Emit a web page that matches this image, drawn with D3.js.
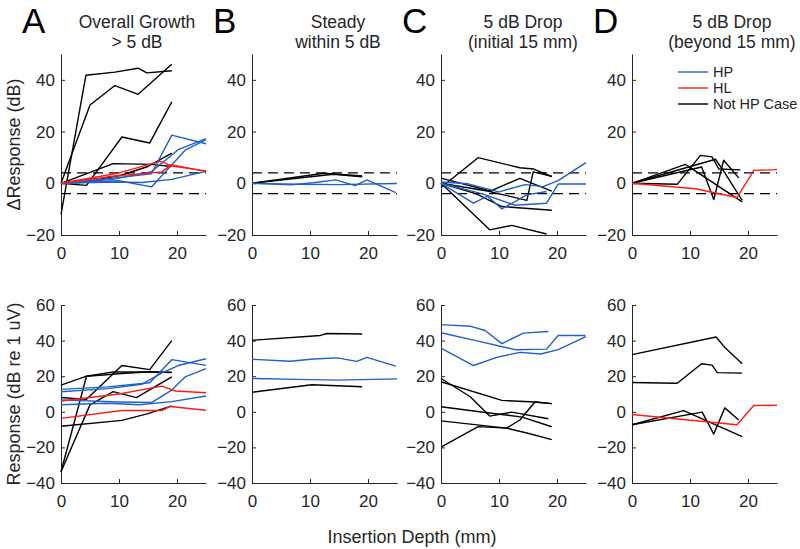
<!DOCTYPE html>
<html>
<head>
<meta charset="utf-8">
<script src="https://cdn.jsdelivr.net/npm/d3@7"></script>
<style>
  body { margin: 0; background: #fff; }
  svg { display: block; font-family: "Liberation Sans", Arial, Helvetica, sans-serif; }
</style>
</head>
<body>
<div id="chart"></div>
<script>
// ---- data ----
const depthTicks = [0, 10, 20];
const deltaTicks = [-20, 0, 20, 40];
const respTicks = [-40, -20, 0, 20, 40, 60];
const panelLetters = ["A", "B", "C", "D"];
const panelTitles = [
    ["Overall Growth", "> 5 dB"],
    ["Steady", "within 5 dB"],
    ["5 dB Drop", "(initial 15 mm)"],
    ["5 dB Drop", "(beyond 15 mm)"]
];
const legendLabels = ["HP", "HL", "Not HP Case"];
const bandDb = 4;

// series: g = group (K = not HP case, HP, HL), d = depth (mm), v = dB
const deltaA = [
    {g: "K", d: [0, 4.3, 9.3, 13.3, 14.8, 19.1], v: [-12, 41.8, 43, 44.5, 42.7, 43.5]},
    {g: "K", d: [0, 5, 9.3, 13.3, 19.1], v: [0, 30.3, 37.8, 34.4, 46]},
    {g: "K", d: [0, 4.4, 10.5, 15.3, 19.1], v: [0, -0.8, 17.9, 15.6, 31.5]},
    {g: "K", d: [0, 9, 15.6, 19.1], v: [0, 7.6, 7.3, 6.5]},
    {g: "K", d: [0, 4.4, 10.5, 15, 19.1], v: [0, 0.5, 3.2, 6.5, 11.7]},
    {g: "HP", d: [0, 9, 15.6, 19.1, 25], v: [0, 2, 3.7, 18.6, 15.3]},
    {g: "HP", d: [0, 9, 15.6, 20.2, 25], v: [0, 1.5, 4.5, 13, 17.3]},
    {g: "HP", d: [0, 10, 15.6, 21.4, 25], v: [0, 1, -1.4, 12.8, 16.9]},
    {g: "HP", d: [0, 9, 14, 19.1, 25], v: [0, 0.5, 0.3, 1.5, 4.6]},
    {g: "HL", d: [0, 10, 17.1, 19.1, 25], v: [0, 4, 8.5, 6.7, 4.8]},
    {g: "HL", d: [0, 8, 17.4, 19, 25], v: [0, 2.5, 4.4, 7.2, 4.5]}
];
const respA = [
    {g: "K", d: [0, 4.4, 10.5, 15.3, 19.1], v: [-33.7, 20, 21.5, 22.5, 22]},
    {g: "K", d: [0, 5, 9, 13, 19.1], v: [-33.7, 3.9, 11.3, 8, 19.6]},
    {g: "K", d: [0, 4.4, 10.5, 15.3, 19.1], v: [8, 7, 26, 23.7, 40]},
    {g: "K", d: [0, 4.4, 9, 15, 19.1], v: [15, 20, 22.4, 22.4, 22.2]},
    {g: "K", d: [0, 10.5, 15, 19.1], v: [-8.1, -4.8, -1, 3.3]},
    {g: "HP", d: [0, 8, 15.3, 19.1, 25], v: [12.6, 14, 16.3, 29.3, 26.1]},
    {g: "HP", d: [0, 8, 14, 17.5, 20.2, 25], v: [11.3, 13, 15.5, 22, 26, 29.8]},
    {g: "HP", d: [0, 10, 15.6, 19.1, 21.4, 25], v: [6.7, 5.5, 5.2, 12.2, 19.6, 24.3]},
    {g: "HP", d: [0, 8, 13.5, 19.1, 25], v: [4, 4.8, 4, 5.7, 8.9]},
    {g: "HL", d: [0, 10, 17.4, 19.7, 25], v: [6.1, 10, 14.4, 11.7, 10.7]},
    {g: "HL", d: [0, 10.5, 17.4, 18.8, 25], v: [-3.7, 0.7, 0.7, 3, 0.9]}
];
const deltaB = [
    {g: "K", d: [0, 12.4, 19], v: [0, 3.9, 2.8]},
    {g: "K", d: [0, 14, 19], v: [0, 3.5, 2.5]},
    {g: "HP", d: [0, 6.6, 10.6, 14.4, 17.8, 19.8, 24.8], v: [0, -0.6, 0.2, 1.3, -0.9, 1.3, -3.6]},
    {g: "HP", d: [0, 8, 15, 25], v: [0, -0.4, -0.5, -0.1]}
];
const respB = [
    {g: "K", d: [0, 11.8, 12.9, 19], v: [40.2, 42.9, 44, 43.7]},
    {g: "K", d: [0, 10.3, 19], v: [11, 15.2, 14.1]},
    {g: "HP", d: [0, 6.6, 10.6, 14.7, 18.1, 19.8, 24.8], v: [29.5, 28.4, 29.7, 30.3, 28.3, 30.6, 25.7]},
    {g: "HP", d: [0, 7.8, 14.7, 25], v: [18.7, 18.2, 17.8, 18.5]}
];
const deltaC = [
    {g: "K", d: [0, 6.4, 13.6, 16, 19.1], v: [-1.6, 9.9, 6, 5.5, 2.6]},
    {g: "K", d: [0, 8, 14.8, 15.9, 19.1], v: [0, -3, -6.6, 4.4, 2.7]},
    {g: "K", d: [0, 6, 10.5, 19.1], v: [0, -4, -9, -10.4]},
    {g: "K", d: [0, 8.5, 13.6, 19.1], v: [2, -3, 1.9, -3]},
    {g: "K", d: [0, 8.4, 12.2, 18.2], v: [0, -18, -16.3, -19.6]},
    {g: "HP", d: [0, 4.7, 10, 14.5, 17.6, 20.2, 25], v: [0.5, -0.2, -3.3, -0.5, -1.3, 1, 8]},
    {g: "HP", d: [0, 5.6, 8, 10.5, 14.8, 18.2], v: [0, -7.7, -5, -9.9, -4.5, -3.2]},
    {g: "HP", d: [0, 7, 12.8, 18.2, 20.2, 25], v: [0, -4, -8.5, -7.7, -0.3, -0.3]}
];
const respC = [
    {g: "K", d: [0, 10.5, 16.2, 19.1], v: [16.9, 6.4, 5.5, 4.6]},
    {g: "K", d: [0, 5, 8.4, 12.2, 18.5], v: [18.7, 8.6, -2.4, -0.2, -3.9]},
    {g: "K", d: [0, 8, 14, 19.1], v: [2.8, -0.5, -3, -8.4]},
    {g: "K", d: [0, 11.3, 14.8, 19.1], v: [-5.1, -9.2, -11.9, -15.6]},
    {g: "K", d: [0, 6.4, 11.3, 13.6, 16.2, 19.1], v: [-19.8, -8.3, -9.2, -4.6, 5.5, 4.6]},
    {g: "HP", d: [0, 5, 7.6, 10.5, 14.2, 18.5], v: [49, 48.1, 45.7, 38.3, 44.2, 45.1]},
    {g: "HP", d: [0, 6, 12.8, 18.2, 20.2, 24.9], v: [44.4, 40, 34.9, 35.2, 42.9, 42.9]},
    {g: "HP", d: [0, 5.6, 9.6, 13.6, 17.2, 20.2, 25], v: [35.8, 26, 30.6, 33.4, 32.5, 34.9, 42.2]}
];
const deltaD = [
    {g: "K", d: [0, 14.4, 16, 19], v: [0, 9.3, 4, -6.6]},
    {g: "K", d: [0, 7.8, 11.8, 13.8, 15, 18.7], v: [0, -0.4, 10.8, 10.2, 5.5, 5.2]},
    {g: "K", d: [0, 9.2, 19], v: [0, 7.3, -7.2]},
    {g: "K", d: [0, 12, 14.1, 15.8, 18.4], v: [0, 6.3, -6.3, 8.9, 2.1]},
    {g: "HL", d: [0, 10.9, 18.1, 21, 25], v: [0, -2.1, -5.5, 5, 5.3]}
];
const respD = [
    {g: "K", d: [0, 14.5, 16.1, 19], v: [32.1, 42, 35.8, 27]},
    {g: "K", d: [0, 7.8, 12, 13.8, 14.7, 19], v: [16.5, 16, 27, 26.2, 22, 21.7]},
    {g: "K", d: [0, 8.9, 19], v: [-7.3, 0.7, -13.9]},
    {g: "K", d: [0, 12.1, 14.1, 16, 18.4], v: [-7.3, -0.2, -12.5, 2.2, -4.6]},
    {g: "HL", d: [0, 18.1, 21, 25], v: [-1.5, -7.3, 3.5, 3.7]}
];

const deltaPanels = [deltaA, deltaB, deltaC, deltaD];
const respPanels = [respA, respB, respC, respD];

// ---- layout ----
const width = 800, height = 549;
const panelX = [61, 252, 441, 632];
const panelW = 145;
const topRow = {y0: 54, y1: 235};
const botRow = {y0: 305, y1: 483};
const titleDx = [76, 86, 82, 100];
const axisColor = "#262626";
const colors = {K: "#000000", HP: "#2060c8", HL: "#ff1a1a"};
const drawOrder = ["K", "HP", "HL"];

const svg = d3.select("#chart").append("svg")
    .attr("width", width)
    .attr("height", height)
    .attr("viewBox", `0 0 ${width} ${height}`);

const yDelta = d3.scaleLinear().domain([-20, 50]).range([topRow.y1, topRow.y0]);
const yResp = d3.scaleLinear().domain([-40, 60]).range([botRow.y1, botRow.y0]);

function styleAxis(g) {
    g.select(".domain").attr("stroke", axisColor).attr("stroke-width", 1);
    g.selectAll(".tick line").attr("stroke", axisColor);
    g.selectAll(".tick text").attr("fill", axisColor).style("font-size", "17px");
}

function drawPanel(i, series, y, yTicks, row, withBand) {
    const x = d3.scaleLinear().domain([0, 25]).range([panelX[i], panelX[i] + panelW]);

    svg.append("g")
        .attr("transform", `translate(0,${row.y1})`)
        .call(d3.axisBottom(x).tickValues(depthTicks).tickSize(-4).tickSizeOuter(0).tickPadding(12))
        .call(styleAxis);

    svg.append("g")
        .attr("transform", `translate(${panelX[i]},0)`)
        .call(d3.axisLeft(y).tickValues(yTicks).tickSize(-4).tickSizeOuter(0).tickPadding(6))
        .call(styleAxis);

    if (withBand) {
        svg.append("g")
            .selectAll("line")
            .data([bandDb, -bandDb])
            .join("line")
            .attr("x1", x(0))
            .attr("x2", x(25))
            .attr("y1", d => y(d))
            .attr("y2", d => y(d))
            .attr("stroke", "#000")
            .attr("stroke-width", 1.3)
            .attr("stroke-dasharray", "10,6");
    }

    const line = d3.line()
        .x(p => x(p[0]))
        .y(p => y(p[1]));

    const sorted = drawOrder.flatMap(g => series.filter(s => s.g === g));
    svg.append("g")
        .attr("fill", "none")
        .attr("stroke-width", 1.4)
        .attr("stroke-linejoin", "round")
        .selectAll("path")
        .data(sorted)
        .join("path")
        .attr("stroke", s => colors[s.g])
        .attr("d", s => line(d3.zip(s.d, s.v)));
}

deltaPanels.forEach((s, i) => drawPanel(i, s, yDelta, deltaTicks, topRow, true));
respPanels.forEach((s, i) => drawPanel(i, s, yResp, respTicks, botRow, false));

// panel letters and titles
panelLetters.forEach((letter, i) => {
    svg.append("text")
        .attr("x", panelX[i] - 39)
        .attr("y", 33)
        .style("font-size", "35px")
        .attr("fill", "#000")
        .text(letter);

    svg.append("text")
        .attr("x", panelX[i] + titleDx[i])
        .attr("text-anchor", "middle")
        .style("font-size", "17.5px")
        .attr("fill", axisColor)
        .selectAll("tspan")
        .data(panelTitles[i])
        .join("tspan")
        .attr("x", panelX[i] + titleDx[i])
        .attr("y", (d, k) => 28 + k * 20)
        .text(d => d);
});

// axis labels
svg.append("text")
    .attr("transform", `translate(20,${(topRow.y0 + topRow.y1) / 2}) rotate(-90)`)
    .attr("text-anchor", "middle")
    .style("font-size", "18px")
    .attr("fill", axisColor)
    .text("\u0394Response (dB)");

svg.append("text")
    .attr("transform", `translate(20,${(botRow.y0 + botRow.y1) / 2}) rotate(-90)`)
    .attr("text-anchor", "middle")
    .style("font-size", "18px")
    .attr("fill", axisColor)
    .text("Response (dB re 1 uV)");

svg.append("text")
    .attr("x", 412)
    .attr("y", 543)
    .attr("text-anchor", "middle")
    .style("font-size", "18px")
    .attr("fill", axisColor)
    .text("Insertion Depth (mm)");

// legend in panel D
const legend = svg.append("g")
    .attr("transform", `translate(${panelX[3] + 46},0)`);
const legendKeys = ["HP", "HL", "K"];
const legendY = [72, 88, 104];
legendKeys.forEach((k, j) => {
    legend.append("line")
        .attr("x1", 0).attr("x2", 30)
        .attr("y1", legendY[j]).attr("y2", legendY[j])
        .attr("stroke", colors[k])
        .attr("stroke-width", 1.4);
    legend.append("text")
        .attr("x", 35)
        .attr("y", legendY[j])
        .attr("dy", "0.35em")
        .style("font-size", "14.5px")
        .attr("fill", axisColor)
        .text(legendLabels[j]);
});
</script>
</body>
</html>
